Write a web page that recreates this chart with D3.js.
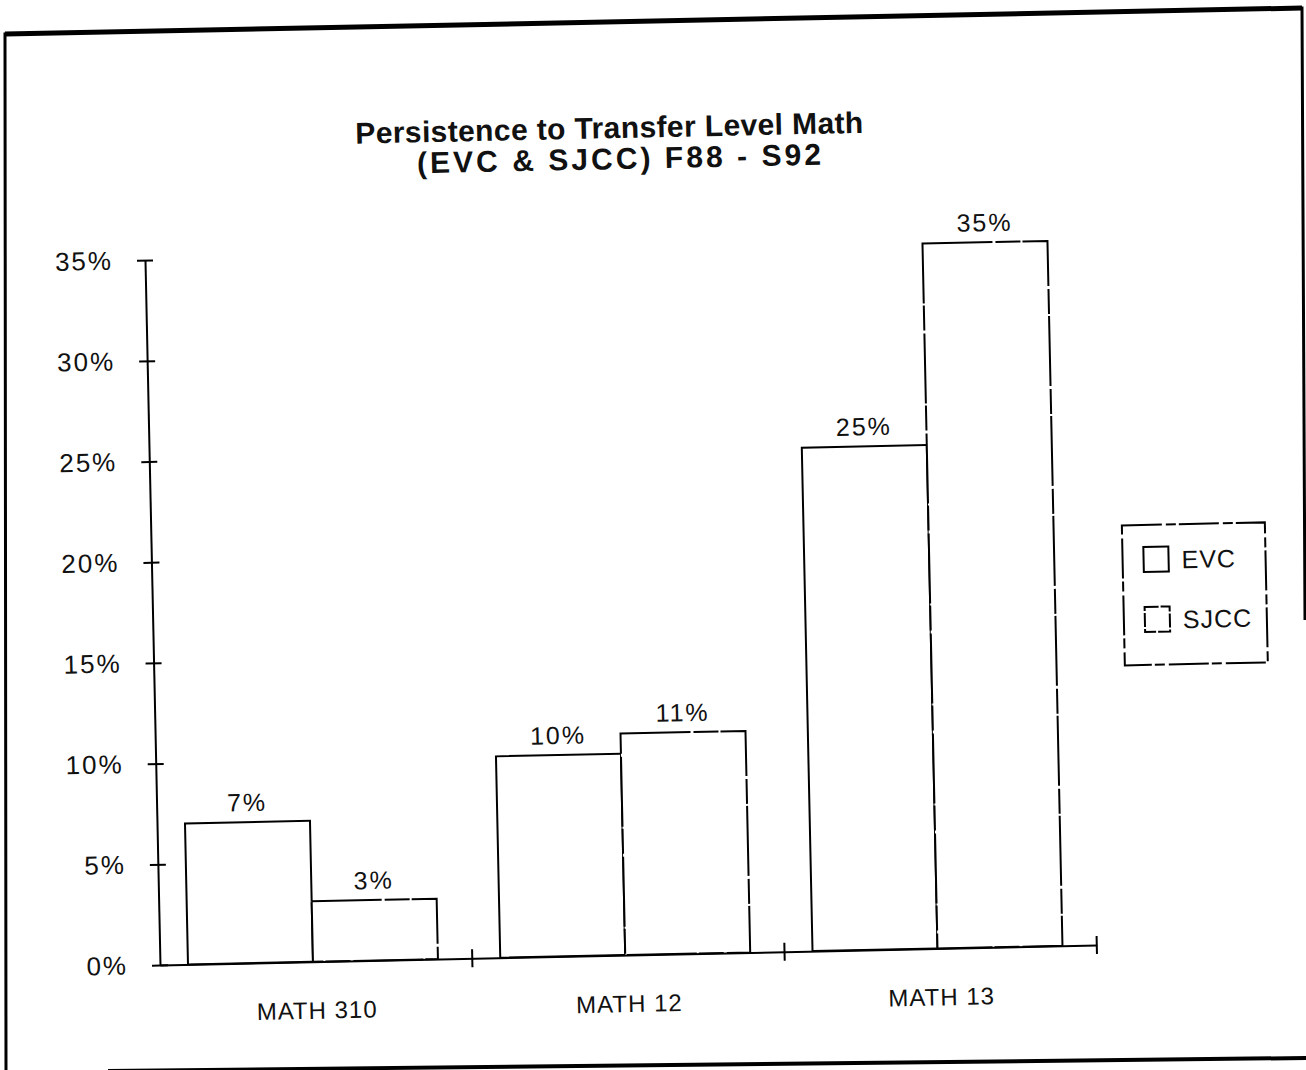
<!DOCTYPE html>
<html>
<head>
<meta charset="utf-8">
<title>Persistence to Transfer Level Math</title>
<script src="https://d3js.org/d3.v7.min.js"></script>
<style>
  html, body { margin: 0; padding: 0; background: #fff; }
  svg { display: block; }
  text { font-family: "Liberation Sans", Arial, sans-serif; fill: #111; }
</style>
</head>
<body>
<script>
// data
const categories = ["MATH 310", "MATH 12", "MATH 13"];
const seriesNames = ["EVC", "SJCC"];
const evcValues = [7, 10, 25];
const sjccValues = [3, 11, 35];
const yTicks = [0, 5, 10, 15, 20, 25, 30, 35];
const titleLines = ["Persistence to Transfer Level Math", "(EVC & SJCC) F88 - S92"];

const width = 1306, height = 1070;

const svg = d3.select("body").append("svg")
    .attr("width", width)
    .attr("height", height);

// outer frame of the scanned page (not quite square, so drawn as-is)
svg.append("path")
    .attr("d", "M6,1075 L5,34 L1302,8 L1305,620")
    .attr("fill", "none")
    .attr("stroke", "#000")
    .attr("stroke-width", 3);
svg.append("path")
    .attr("d", "M5,34 L1302,8")
    .attr("stroke", "#000")
    .attr("stroke-width", 5);
svg.append("path")
    .attr("d", "M108,1071 L1306,1058")
    .attr("stroke", "#000")
    .attr("stroke-width", 4);

// the scan is tilted a little, so the chart is turned around the origin
const page = svg.append("g")
    .attr("transform", "rotate(-1.22,160,965)");

// title
const title = page.append("g");
title.append("text")
    .attr("x", 627).attr("y", 148)
    .attr("text-anchor", "middle")
    .attr("font-size", 30).attr("font-weight", "bold")
    .attr("textLength", 508).attr("lengthAdjust", "spacing")
    .text(titleLines[0]);
title.append("text")
    .attr("x", 636).attr("y", 179)
    .attr("text-anchor", "middle")
    .attr("font-size", 30).attr("font-weight", "bold")
    .attr("textLength", 404).attr("lengthAdjust", "spacing")
    .text(titleLines[1]);

// scales
const x0 = d3.scaleBand().domain(categories).range([160, 1097]);
const x1 = d3.scaleBand().domain(seriesNames).range([28, 278]);
const y = d3.scaleLinear().domain([0, 35]).range([965, 260]);

// y axis
const yAxis = page.append("g")
    .attr("transform", "translate(160,0)")
    .call(d3.axisLeft(y).tickValues(yTicks).tickFormat(d => d + "%")
        .tickSizeInner(8).tickSizeOuter(0).tickPadding(24));
yAxis.select(".domain").attr("stroke", "#000").attr("stroke-width", 2);
yAxis.selectAll(".tick line").attr("x1", 8).attr("x2", -8)
    .attr("stroke", "#000").attr("stroke-width", 2);
yAxis.selectAll(".tick text")
    .attr("font-size", 26)
    .attr("letter-spacing", 2)
    .attr("font-family", "Liberation Sans, Arial, sans-serif")
    .attr("fill", "#111");

// bars
const rows = categories.map((c, i) => ({ cat: c, vals: [evcValues[i], sjccValues[i]] }));
const groups = page.selectAll("g.grp")
    .data(rows)
    .join("g")
    .attr("class", "grp")
    .attr("transform", d => `translate(${x0(d.cat)},0)`);

groups.selectAll("rect")
    .data(d => d.vals.map((v, k) => ({ key: seriesNames[k], v })))
    .join("rect")
    .attr("x", d => x1(d.key))
    .attr("y", d => y(d.v))
    .attr("width", x1.bandwidth())
    .attr("height", d => y(0) - y(d.v))
    .attr("fill", "#fff")
    .attr("stroke", "#000")
    .attr("stroke-width", 2)
    .attr("stroke-dasharray", d => d.key === "SJCC" ? "70 3 25 2" : null);

groups.selectAll("text.val")
    .data(d => d.vals.map((v, k) => ({ key: seriesNames[k], v })))
    .join("text")
    .attr("class", "val")
    .attr("x", d => x1(d.key) + x1.bandwidth() / 2)
    .attr("y", d => y(d.v) - 11)
    .attr("text-anchor", "middle")
    .attr("font-size", 25)
    .attr("letter-spacing", 2)
    .text(d => d.v + "%");

// x axis
const xAxis = page.append("g")
    .attr("transform", `translate(0,${y(0)})`)
    .call(d3.axisBottom(x0).tickSize(0).tickPadding(40));
xAxis.select(".domain").attr("stroke", "#000").attr("stroke-width", 2);
xAxis.selectAll(".tick text")
    .attr("font-size", 24)
    .attr("letter-spacing", 1)
    .attr("font-family", "Liberation Sans, Arial, sans-serif")
    .attr("fill", "#111");

// tick marks between the groups
const bounds = categories.map(c => x0(c)).concat([x0.range()[1]]).slice(1);
xAxis.selectAll("line.sep")
    .data(bounds)
    .join("line")
    .attr("class", "sep")
    .attr("x1", d => d).attr("x2", d => d)
    .attr("y1", -9).attr("y2", 9)
    .attr("stroke", "#000").attr("stroke-width", 2);

// legend
const legend = page.append("g").attr("transform", "translate(1131,546)");
legend.append("rect")
    .attr("width", 143).attr("height", 140)
    .attr("fill", "#fff")
    .attr("stroke", "#000")
    .attr("stroke-width", 2)
    .attr("stroke-dasharray", "40 4 10 3");
const item = legend.selectAll("g.item")
    .data(seriesNames)
    .join("g")
    .attr("class", "item")
    .attr("transform", (d, i) => `translate(21,${22 + i * 60})`);
item.append("rect")
    .attr("width", 25).attr("height", 25)
    .attr("fill", "#fff")
    .attr("stroke", "#000")
    .attr("stroke-width", 2)
    .attr("stroke-dasharray", (d, i) => i === 1 ? "14 2" : null);
item.append("text")
    .attr("x", 38).attr("y", 22)
    .attr("font-size", 25)
    .attr("letter-spacing", 1)
    .text(d => d);
</script>
</body>
</html>
